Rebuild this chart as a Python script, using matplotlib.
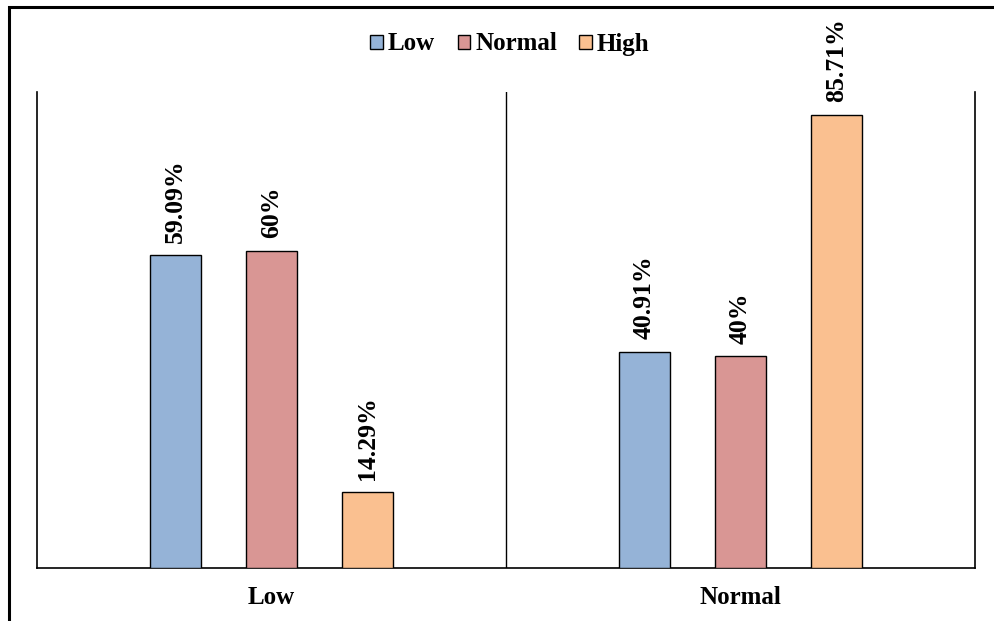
import matplotlib
matplotlib.use("Agg")
import matplotlib.pyplot as plt
from matplotlib.patches import Rectangle
import numpy as np

categories = ["Low", "Normal"]
series = ["Low", "Normal", "High"]
values_low = [59.09, 40.91]
values_normal = [60, 40]
values_high = [14.29, 85.71]
labels_low = ["59.09%", "40.91%"]
labels_normal = ["60%", "40%"]
labels_high = ["14.29%", "85.71%"]
colors = ["#95B3D7", "#D99694", "#FAC090"]

plt.rcParams['font.family'] = ['Liberation Serif', 'DejaVu Serif']

fig = plt.figure(figsize=(9.95, 6.21), dpi=100)
ax = fig.add_axes([37/995, 1-568/621, (975-37)/995, (568-92)/621])

x = np.arange(len(categories))
bw = 0.109
offs = [-0.205, 0.0, 0.205]
all_vals = [values_low, values_normal, values_high]
all_labs = [labels_low, labels_normal, labels_high]
handles = []
for i, (name, vals, labs) in enumerate(zip(series, all_vals, all_labs)):
    bars = ax.bar(x + offs[i], vals, bw, color=colors[i], edgecolor='black',
                  linewidth=1.0, label=name, zorder=3)
    handles.append(bars)
    for b, lab in zip(bars, labs):
        ax.annotate(lab, (b.get_x() + b.get_width()/2, b.get_height()),
                    xytext=(0, 9), textcoords='offset points', rotation=90,
                    ha='center', va='bottom', fontsize=18.5, fontweight='bold',
                    annotation_clip=False)

ax.set_xlim(-0.5, 1.5)
ax.set_ylim(0, 90)
ax.axvline(0.5, color='black', linewidth=1.0)
ax.set_yticks([])
ax.set_xticks(x)
ax.set_xticklabels(categories, fontsize=18, fontweight='bold')
ax.tick_params(axis='x', length=0, pad=13)
ax.spines['top'].set_visible(False)
for s in ['left', 'bottom', 'right']:
    ax.spines[s].set_linewidth(1.2)

leg = fig.legend(handles=handles, labels=series, loc='center',
                 bbox_to_anchor=(510/995, 1-44/621), ncol=3, frameon=False,
                 prop={'weight': 'bold', 'size': 18}, handlelength=0.5,
                 handleheight=0.5, handletextpad=0.2, columnspacing=0.9)

# outer frame (top and left visible)
fig.patches.append(Rectangle((9/995, -0.1), 1.2, 1.1 - 7/621,
                             transform=fig.transFigure, fill=False,
                             edgecolor='black', linewidth=2.2))

fig.savefig("out.png", dpi=100)
